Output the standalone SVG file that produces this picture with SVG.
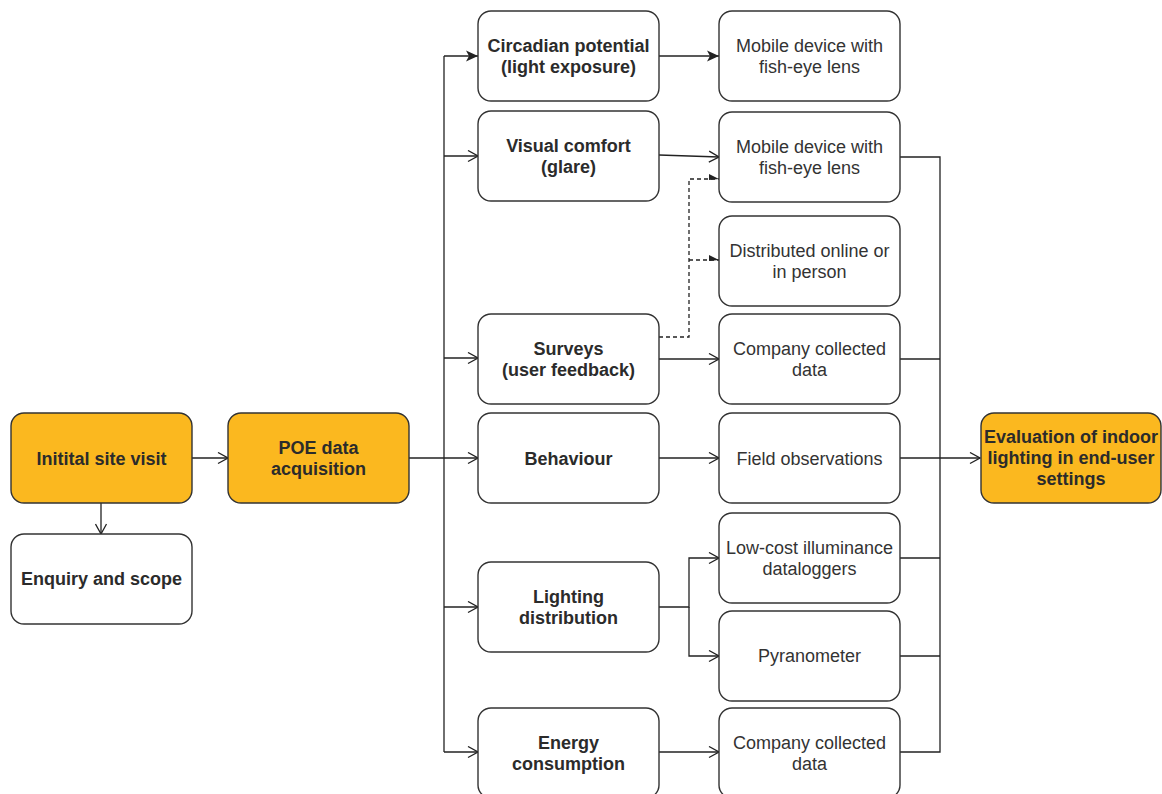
<svg xmlns="http://www.w3.org/2000/svg" width="1162" height="794" viewBox="0 0 1162 794">
<style>
.box{fill:#fff;stroke:#333;stroke-width:1.4}
.hl{fill:#FBB81F;stroke:#333;stroke-width:1.4}
.t{font-family:"Liberation Sans",Arial,sans-serif;font-size:18px;fill:#333;text-anchor:middle}
.b{font-weight:bold;fill:#2b2b2b}
.c{fill:none;stroke:#222;stroke-width:1.3}
.d{fill:none;stroke:#222;stroke-width:1.3;stroke-dasharray:4 3}
</style>
<defs>
<marker id="open" markerWidth="12" markerHeight="13" refX="11" refY="6.5" orient="auto" markerUnits="userSpaceOnUse"><path d="M1,1 L11,6.5 L1,12" fill="none" stroke="#222" stroke-width="1.3"/></marker>
<marker id="block" markerWidth="13" markerHeight="13" refX="12" refY="6.5" orient="auto" markerUnits="userSpaceOnUse"><path d="M0,1 L12,6.5 L0,12 L3,6.5 Z" fill="#222"/></marker>
<marker id="half" markerWidth="12" markerHeight="10" refX="11" refY="6" orient="auto" markerUnits="userSpaceOnUse"><path d="M1,1 L11,6 L1,7 Z" fill="#222"/></marker>
</defs>
<g id="connectors">
<path class="c" d="M192,458 H228" marker-end="url(#open)"/>
<path class="c" d="M101,503 V534" marker-end="url(#open)"/>
<path class="c" d="M444,56 V752"/>
<path class="c" d="M444,56 H478" marker-end="url(#block)"/>
<path class="c" d="M444,156 H478" marker-end="url(#open)"/>
<path class="c" d="M444,358 H478" marker-end="url(#open)"/>
<path class="c" d="M409,458 H478" marker-end="url(#open)"/>
<path class="c" d="M444,607 H478" marker-end="url(#open)"/>
<path class="c" d="M444,752 H478" marker-end="url(#open)"/>
<path class="c" d="M659,56 H719" marker-end="url(#block)"/>
<path class="c" d="M659,155 L719,157" marker-end="url(#open)"/>
<path class="d" d="M659,337 H689 V179 H719" marker-end="url(#half)"/>
<path class="d" d="M689,260 H719" marker-end="url(#half)"/>
<path class="c" d="M659,359 H719" marker-end="url(#open)"/>
<path class="c" d="M659,458 H719" marker-end="url(#open)"/>
<path class="c" d="M659,607 H689 V558 H719" marker-end="url(#open)"/>
<path class="c" d="M689,607 V656 H719" marker-end="url(#open)"/>
<path class="c" d="M659,752 H719" marker-end="url(#open)"/>
<path class="c" d="M900,157 H940 V752 H900"/>
<path class="c" d="M900,359 H940"/>
<path class="c" d="M900,558 H940"/>
<path class="c" d="M900,656 H940"/>
<path class="c" d="M900,458 H980" marker-end="url(#open)"/>
</g>
<g id="n-initial"><rect class="hl" x="11" y="413" width="181" height="90" rx="13"/><text class="t b" x="101.5" y="465">Initital site visit</text></g>
<g id="n-enquiry"><rect class="box" x="11" y="534" width="181" height="90" rx="13"/><text class="t b" x="101.5" y="585">Enquiry and scope</text></g>
<g id="n-poe"><rect class="hl" x="228" y="413" width="181" height="90" rx="13"/><text class="t b" x="318.5" y="454">POE data</text><text class="t b" x="318.5" y="475">acquisition</text></g>
<g id="n-circadian"><rect class="box" x="478" y="11" width="181" height="90" rx="13"/><text class="t b" x="568.5" y="52">Circadian potential</text><text class="t b" x="568.5" y="73">(light exposure)</text></g>
<g id="n-visual"><rect class="box" x="478" y="111" width="181" height="90" rx="13"/><text class="t b" x="568.5" y="152">Visual comfort</text><text class="t b" x="568.5" y="173">(glare)</text></g>
<g id="n-surveys"><rect class="box" x="478" y="314" width="181" height="90" rx="13"/><text class="t b" x="568.5" y="355">Surveys</text><text class="t b" x="568.5" y="376">(user feedback)</text></g>
<g id="n-behaviour"><rect class="box" x="478" y="413" width="181" height="90" rx="13"/><text class="t b" x="568.5" y="465">Behaviour</text></g>
<g id="n-lighting"><rect class="box" x="478" y="562" width="181" height="90" rx="13"/><text class="t b" x="568.5" y="603">Lighting</text><text class="t b" x="568.5" y="624">distribution</text></g>
<g id="n-energy"><rect class="box" x="478" y="708" width="181" height="90" rx="13"/><text class="t b" x="568.5" y="749">Energy</text><text class="t b" x="568.5" y="770">consumption</text></g>
<g id="n-mobile1"><rect class="box" x="719" y="11" width="181" height="90" rx="13"/><text class="t" x="809.5" y="52">Mobile device with</text><text class="t" x="809.5" y="73">fish-eye lens</text></g>
<g id="n-mobile2"><rect class="box" x="719" y="112" width="181" height="90" rx="13"/><text class="t" x="809.5" y="153">Mobile device with</text><text class="t" x="809.5" y="174">fish-eye lens</text></g>
<g id="n-distributed"><rect class="box" x="719" y="216" width="181" height="90" rx="13"/><text class="t" x="809.5" y="257">Distributed online or</text><text class="t" x="809.5" y="278">in person</text></g>
<g id="n-company1"><rect class="box" x="719" y="314" width="181" height="90" rx="13"/><text class="t" x="809.5" y="355">Company collected</text><text class="t" x="809.5" y="376">data</text></g>
<g id="n-field"><rect class="box" x="719" y="413" width="181" height="90" rx="13"/><text class="t" x="809.5" y="465">Field observations</text></g>
<g id="n-lowcost"><rect class="box" x="719" y="513" width="181" height="90" rx="13"/><text class="t" x="809.5" y="554">Low-cost illuminance</text><text class="t" x="809.5" y="575">dataloggers</text></g>
<g id="n-pyranometer"><rect class="box" x="719" y="611" width="181" height="90" rx="13"/><text class="t" x="809.5" y="662">Pyranometer</text></g>
<g id="n-company2"><rect class="box" x="719" y="708" width="181" height="90" rx="13"/><text class="t" x="809.5" y="749">Company collected</text><text class="t" x="809.5" y="770">data</text></g>
<g id="n-evaluation"><rect class="hl" x="981" y="413" width="180" height="90" rx="13"/><text class="t b" x="1071" y="443">Evaluation of indoor</text><text class="t b" x="1071" y="464">lighting in end-user</text><text class="t b" x="1071" y="485">settings</text></g>
</svg>
